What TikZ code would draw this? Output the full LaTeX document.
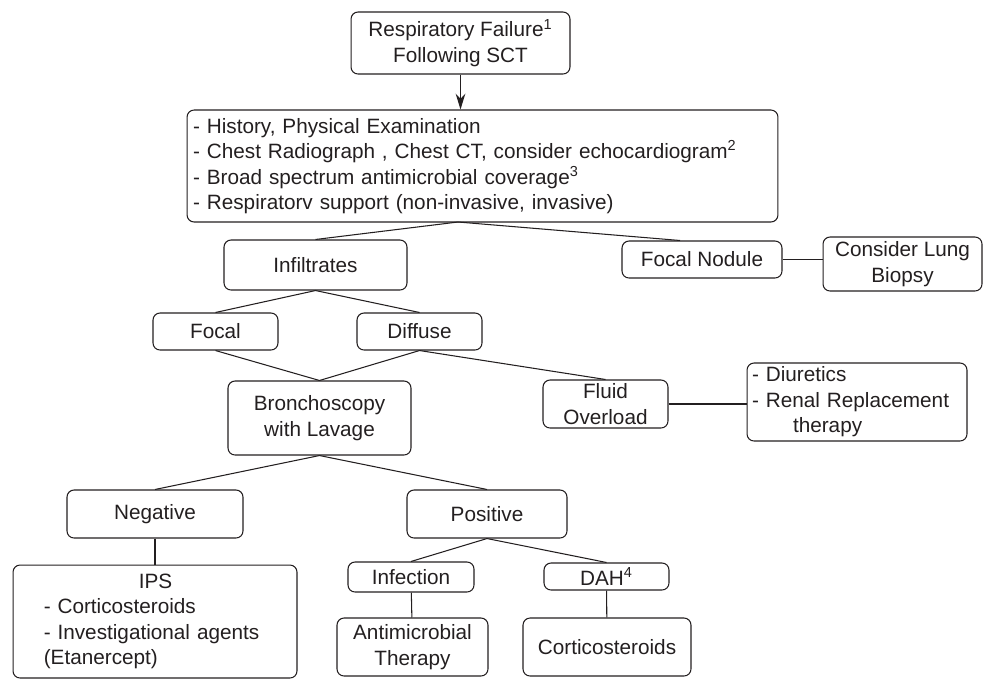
\documentclass[tikz,border=0pt]{standalone}
\usepackage{fontspec}
\setmainfont{Liberation Sans}
\usepackage{xcolor}
\usetikzlibrary{arrows.meta}

\definecolor{ink}{HTML}{231F20}
\tikzset{box/.style={draw=ink, rounded corners=4pt, inner sep=0pt, align=center, text=ink,
    font=\fontsize{11.8}{14.5}\selectfont}}

\begin{document}
\begin{tikzpicture}[x=0.02cm, y=-0.02cm, line width=0.6pt]
    \useasboundingbox (0,0) rectangle (983,681);
    % top of the chart
    \node[box, minimum width=4.38cm, minimum height=1.24cm] (resp) at (460.5,43) {Respiratory Failure\textsuperscript{1}\\Following SCT};
    \node[box, minimum width=11.82cm, minimum height=2.24cm, align=left, text width=11.58cm] (work) at (482.5,166)
        {- History, Physical Examination\\- Chest Radiograph , Chest CT, consider echocardiogram\textsuperscript{2}\\- Broad spectrum antimicrobial coverage\textsuperscript{3}\\- Respiratorv support (non-invasive, invasive)};
    \coordinate (workb) at (458,222);
    \node[box, minimum width=3.66cm, minimum height=1cm] (infil) at (315.5,265) {Infiltrates};
    \node[box, minimum width=3.2cm, minimum height=0.74cm] (fnod) at (702,259.5) {Focal Nodule};
    \node[box, minimum width=3.18cm, minimum height=1.08cm] (biopsy) at (902.5,264) {Consider Lung\\Biopsy};
    % infiltrates
    \node[box, minimum width=2.5cm, minimum height=0.74cm] (focal) at (215.5,331.5) {Focal};
    \node[box, minimum width=2.5cm, minimum height=0.74cm] (diffuse) at (419.5,331.5) {Diffuse};
    \node[box, minimum width=3.66cm, minimum height=1.48cm] (broncho) at (319.5,418) {Bronchoscopy\\with Lavage};
    \node[box, minimum width=2.5cm, minimum height=0.96cm] (fluid) at (605.5,404) {Fluid\\Overload};
    \node[box, minimum width=4.4cm, minimum height=1.56cm, align=left, text width=4.2cm] (diur) at (857,402)
        {- Diuretics\\- Renal Replacement\\\hspace*{0.82cm}therapy};
    % lavage results
    \node[box, minimum width=3.52cm, minimum height=0.96cm] (neg) at (155,514) {Negative};
    \node[box, minimum width=5.68cm, minimum height=2.26cm, align=left, text width=4.45cm] (ips) at (155,621.5)
        {\hspace*{1.9cm}IPS\\- Corticosteroids\\- Investigational agents\\(Etanercept)};
    \node[box, minimum width=3.2cm, minimum height=0.96cm] (pos) at (487,514) {Positive};
    \node[box, minimum width=2.52cm, minimum height=0.6cm] (infect) at (411,577) {Infection};
    \node[box, minimum width=2.5cm, minimum height=0.54cm] (dah) at (606.5,576.5) {DAH\textsuperscript{4}};
    \node[box, minimum width=3.02cm, minimum height=1.16cm] (anti) at (412.5,647) {Antimicrobial\\Therapy};
    \node[box, minimum width=3.36cm, minimum height=1.16cm] (cort) at (607,647) {Corticosteroids};

    % connectors
    \draw[ink, -{Stealth[length=9pt,width=5.5pt]}] (resp.south) -- (resp.south |- work.north);
    \draw[ink] (infil.north) -- (workb) -- ([xshift=-0.44cm]fnod.north);
    \draw[ink] (fnod.east) -- (fnod.east -| biopsy.west);
    \draw[ink] (focal.north) -- (infil.south) -- (diffuse.north);
    \draw[ink] (focal.south) -- (broncho.north) -- (diffuse.south) -- (fluid.north);
    \draw[ink] (fluid.east) -- (fluid.east -| diur.west);
    \draw[ink] (neg.north) -- (broncho.south) -- (pos.north);
    \draw[ink] (neg) -- (ips);
    \draw[ink] (infect.north) -- (pos.south) -- (dah.north);
    \draw[ink] (infect) -- (anti);
    \draw[ink] (dah) -- (cort);
\end{tikzpicture}
\end{document}
